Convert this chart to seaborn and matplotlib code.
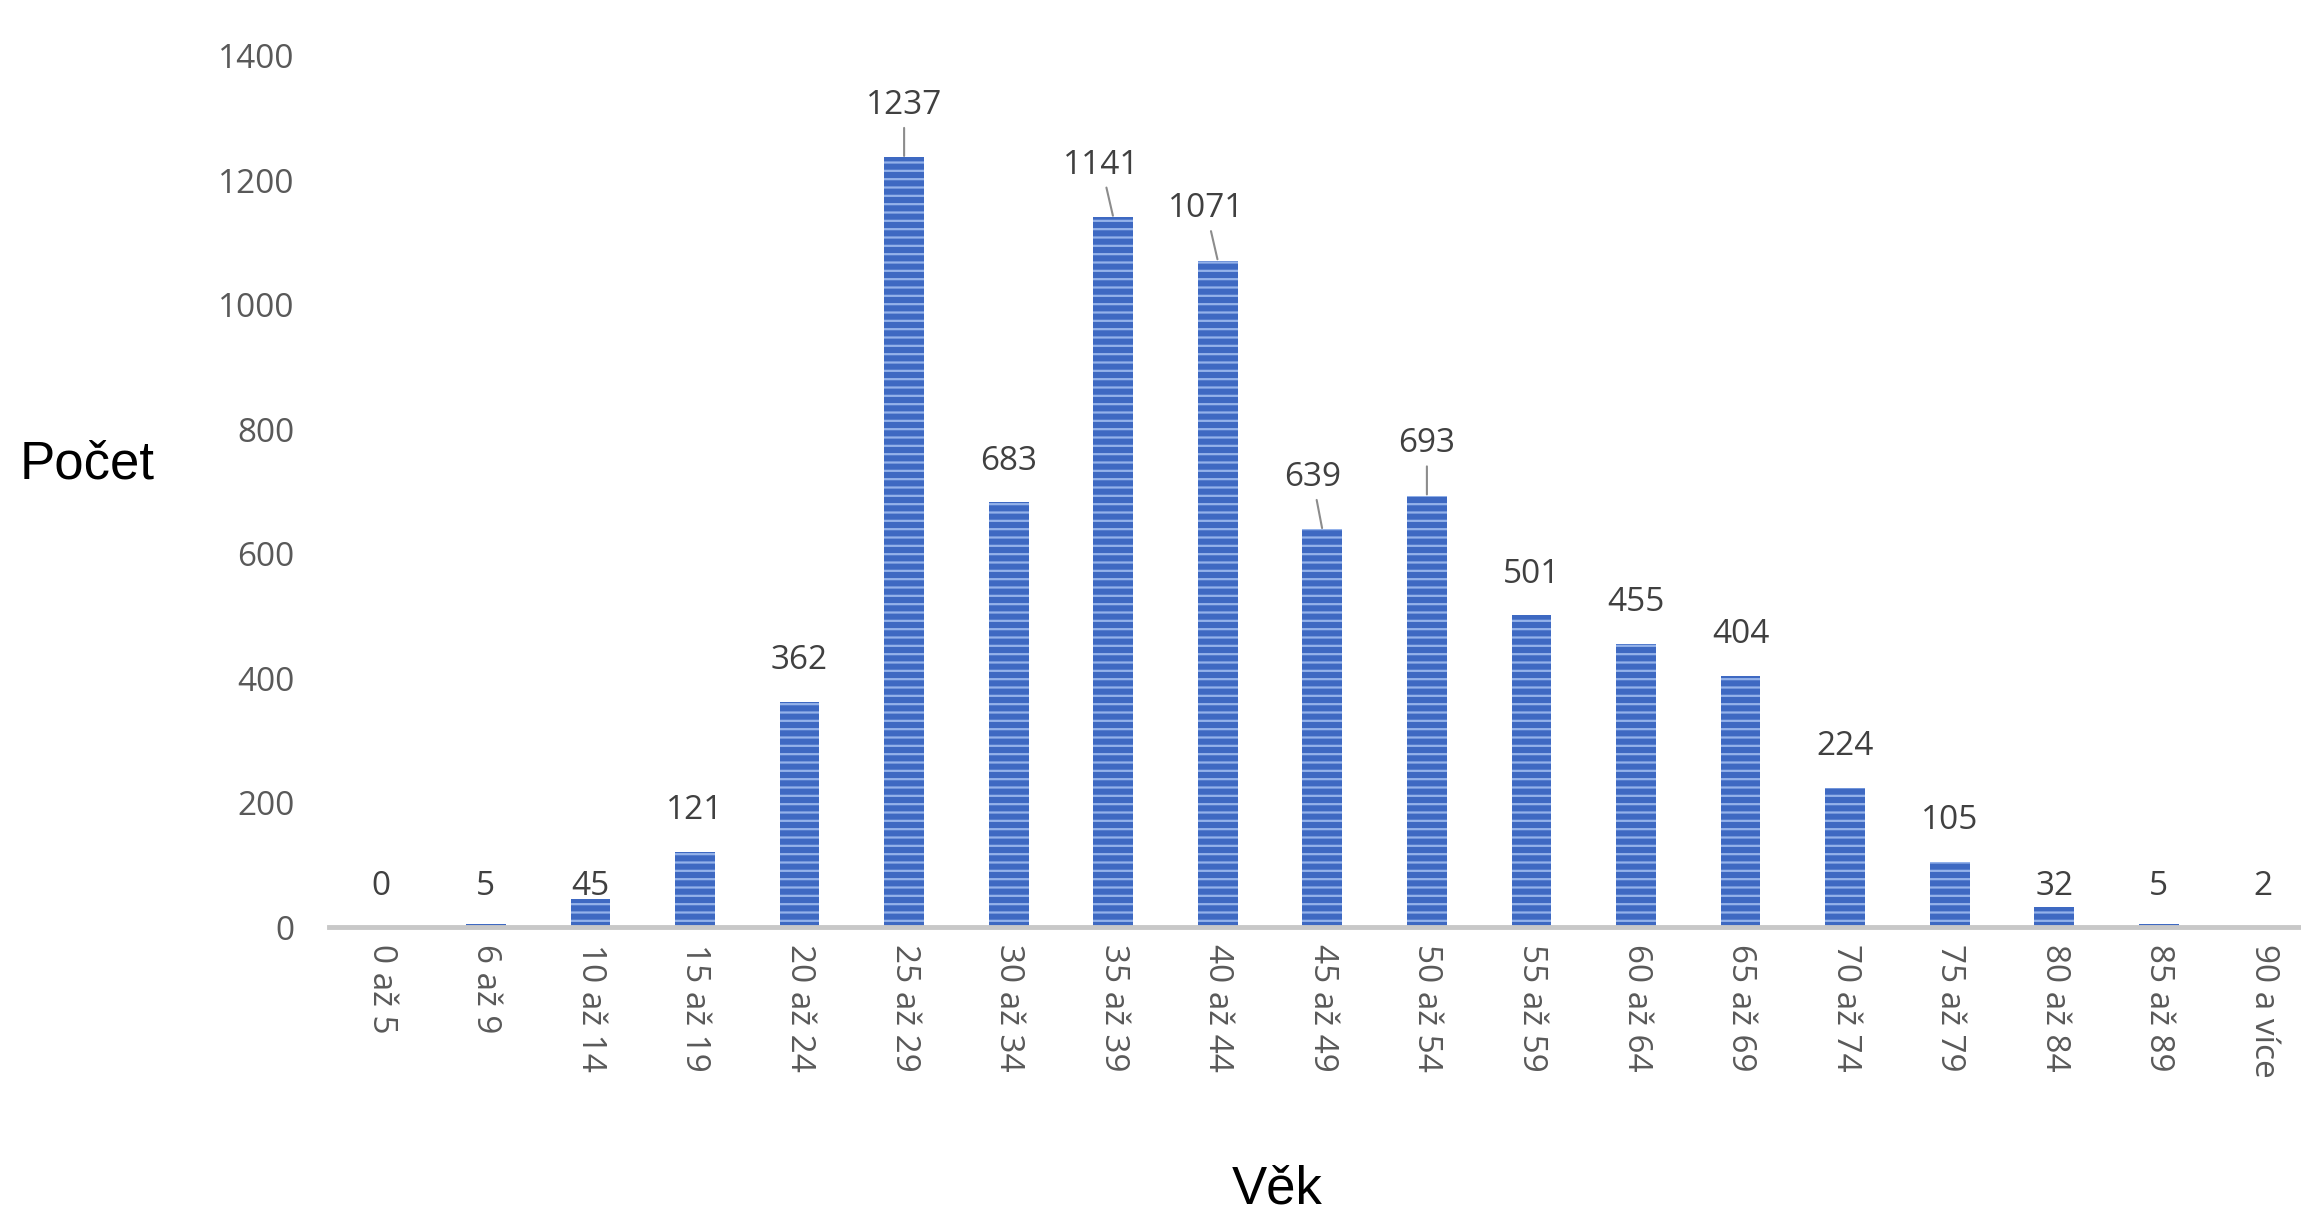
import matplotlib
matplotlib.use('Agg')
import pandas as pd
import matplotlib.pyplot as plt
import seaborn as sns

vek = ['0 až 5', '6 až 9', '10 až 14', '15 až 19', '20 až 24', '25 až 29', '30 až 34',
       '35 až 39', '40 až 44', '45 až 49', '50 až 54', '55 až 59', '60 až 64',
       '65 až 69', '70 až 74', '75 až 79', '80 až 84', '85 až 89', '90 a více']
pocet = [0, 5, 45, 121, 362, 1237, 683, 1141, 1071, 639, 693, 501, 455, 404, 224, 105, 32, 5, 2]
y_ticks = [0, 200, 400, 600, 800, 1000, 1200, 1400]

# labels that were dragged off their bar in the original (index -> x shift in px)
leader = {5: 0, 7: -12, 8: -12, 9: -10, 10: 0}

sns.set_style('white')
plt.rcParams['font.family'] = ['Open Sans', 'DejaVu Sans']
plt.rcParams['hatch.linewidth'] = 1.6

df = pd.DataFrame({'Věk': vek, 'Počet': pocet})

fig = plt.figure(figsize=(23.01, 12.11), dpi=100)
ax = fig.add_axes([0.143, 0.2345, 0.857, 0.745])
sns.barplot(data=df, x='Věk', y='Počet', color='#3e69c2', saturation=1, width=0.38, ax=ax)
for p in ax.patches:
    p.set_hatch('--')
    p.set_edgecolor('#94b2ea')  # also the hatch colour
    p.set_linewidth(0)

# value labels above the bars
for i, v in enumerate(pocet):
    if i in leader:
        ax.annotate(str(v), xy=(i, v), xytext=(leader[i], 52), textcoords='offset pixels',
                    ha='center', va='center', fontsize=24, color='#404040',
                    arrowprops=dict(arrowstyle='-', color='#8c8c8c', lw=1.5, shrinkA=2, shrinkB=1))
    else:
        base = v if v > 60 else 0
        ax.annotate(str(v), xy=(i, base), xytext=(0, 41), textcoords='offset pixels',
                    ha='center', va='center', fontsize=24, color='#404040')

ax.set_ylim(0, 1450)
ax.set_xlim(-0.5, 18.36)
ax.set_yticks(y_ticks)
for s in ['left', 'top', 'right']:
    ax.spines[s].set_visible(False)
ax.spines['bottom'].set_color('#c8c8c8')
ax.spines['bottom'].set_linewidth(3.5)
ax.tick_params(axis='x', labelrotation=-90, length=0, pad=12, labelsize=24, labelcolor='#595959')
ax.tick_params(axis='y', length=0, pad=25, labelsize=24, labelcolor='#595959')

ax.set_xlabel('Věk', fontsize=38, family='Liberation Sans', color='black', va='center')
ax.xaxis.set_label_coords(0.481, -0.291)
ax.set_ylabel('Počet', fontsize=38, family='Liberation Sans', color='black', rotation=0,
              ha='left', va='center')
ax.yaxis.set_label_coords(-0.1567, 0.513)

fig.savefig('out.png', dpi=100)
